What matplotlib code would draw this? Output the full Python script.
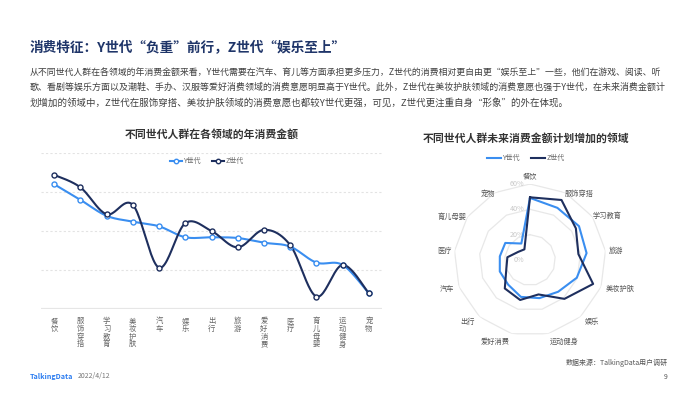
import numpy as np
import matplotlib
matplotlib.use("Agg")
import matplotlib.pyplot as plt

plt.rcParams['font.family'] = ['Noto Sans CJK SC', 'DejaVu Sans']

# ---- data ----
line_cats = ['餐饮', '服饰穿搭', '学习教育', '美妆护肤', '汽车', '娱乐', '出行',
             '旅游', '爱好消费', '医疗', '育儿母婴', '运动健身', '宠物']
line_y = [32.0, 28.0, 23.9, 22.4, 21.2, 18.4, 18.4, 18.2, 17.0, 16.0, 11.9, 11.3, 4.0]
line_z = [34.4, 31.2, 24.3, 26.7, 10.6, 22.0, 20.0, 15.8, 20.3, 16.4, 3.2, 11.3, 4.0]

radar_cats = ['餐饮', '服饰穿搭', '学习教育', '旅游', '美妆护肤', '娱乐', '运动健身',
              '爱好消费', '出行', '汽车', '医疗', '育儿母婴', '宠物']
radar_y = [49, 46.5, 47, 45, 39.5, 33.5, 31, 30, 26, 25.5, 24, 23.7, 14.7]
radar_z = [49.5, 53.5, 44, 38.5, 53.3, 41, 28, 32.5, 30, 20, 18, 11.3, 9.5]
radar_rings = [20, 40, 60]

series_names = ['Y世代', 'Z世代']
c_y = '#3a8ef0'
c_z = '#1e2f5e'

title = '消费特征：Y世代“负重”前行，Z世代“娱乐至上”'
para = ['从不同世代人群在各领域的年消费金额来看，Y世代需要在汽车、育儿等方面承担更多压力，Z世代的消费相对更自由更“娱乐至上”一些，他们在游戏、阅读、听',
        '歌、看剧等娱乐方面以及潮鞋、手办、汉服等爱好消费领域的消费意愿明显高于Y世代。此外，Z世代在美妆护肤领域的消费意愿也强于Y世代，在未来消费金额计',
        '划增加的领域中，Z世代在服饰穿搭、美妆护肤领域的消费意愿也都较Y世代更强，可见，Z世代更注重自身“形象”的外在体现。']

W, H = 700, 394


def fx(x):
    return x / W


def fy(y):
    return 1 - y / H


def smooth(xs, ys, n=24):
    # catmull-rom style curve through the points
    p = np.column_stack([xs, ys]).astype(float)
    ext = np.vstack([p[0], p, p[-1]])
    out = []
    t = np.linspace(0, 1, n)[:, None]
    for i in range(1, len(ext) - 2):
        p0, p1, p2, p3 = ext[i - 1], ext[i], ext[i + 1], ext[i + 2]
        c1 = p1 + (p2 - p0) / 6
        c2 = p2 - (p3 - p1) / 6
        seg = ((1 - t) ** 3) * p1 + 3 * ((1 - t) ** 2) * t * c1 + 3 * (1 - t) * t ** 2 * c2 + t ** 3 * p2
        out.append(seg if i == 1 else seg[1:])
    out = np.vstack(out)
    return out[:, 0], out[:, 1]


fig = plt.figure(figsize=(7, 3.94), dpi=100)

# ---- header ----
ttl = fig.text(fx(30), fy(48), title, fontsize=10.4, fontweight='bold', color='#1f3569', va='center')
para_txt = []
for i, s in enumerate(para):
    t = fig.text(fx(30), fy(72.3 + 15 * i), s, fontsize=6.8, color='#404040', va='center')
    para_txt.append(t)
fig.canvas.draw()
r = fig.canvas.get_renderer()
for t in para_txt[:2]:
    w = t.get_window_extent(r).width
    t.set_fontsize(6.8 * 638 / w)
ttl.set_fontsize(10.4 * 316 / ttl.get_window_extent(r).width)

# ---- line chart ----
ax = fig.add_axes([fx(41), fy(309), fx(382) - fx(41), fy(153) - fy(309)])
xs = np.arange(len(line_cats))
for vals, col, name in [(line_y, c_y, series_names[0]), (line_z, c_z, series_names[1])]:
    sx, sy = smooth(xs, vals)
    ax.plot(sx, sy, color=col, lw=1.5, zorder=3)
    ax.plot(xs, vals, ls='none', marker='o', ms=3.6, mfc='white', mec=col, mew=1.0, zorder=4)
    ax.plot([], [], color=col, lw=1.5, marker='o', ms=3.2, mfc='white', mec=col, label=name)
ax.set_xlim(-0.5, len(line_cats) - 0.5)
ax.set_ylim(0, 40)
for v in [10, 20, 30, 40]:
    ax.axhline(v, color='#e3e3e3', lw=0.8, ls=(0, (2, 2)), zorder=1)
ax.axhline(0, color='#e6e6e6', lw=1.6, zorder=1)
for s in ax.spines.values():
    s.set_visible(False)
ax.set_yticks([])
ax.set_xticks(xs)
ax.set_xticklabels(['\n'.join(c) for c in line_cats], fontsize=5.3, color='#666666',
                   linespacing=0.95, va='top')
ax.tick_params(axis='x', length=0, pad=6)
ax.set_facecolor('none')
fig.text(fx(212), fy(134), '不同世代人群在各领域的年消费金额', fontsize=7.8, fontweight='bold',
         color='#333333', ha='center', va='center')
fig.legend(*ax.get_legend_handles_labels(), loc='center', bbox_to_anchor=(fx(207), fy(161)),
           ncol=2, fontsize=5, frameon=False, handlelength=1.7, handletextpad=0.2,
           columnspacing=1.6, labelcolor='#666666')

# ---- radar ----
cx, cy, rad = 530, 260, 76
pax = fig.add_axes([fx(cx - rad), fy(cy + rad), fx(2 * rad), (2 * rad) / H], projection='polar')
pax.set_theta_zero_location('N')
pax.set_theta_direction(-1)
pax.set_ylim(0, 60)
pax.grid(False)
pax.set_xticks([])
pax.set_yticks([])
pax.spines['polar'].set_visible(False)
pax.set_facecolor('none')
n = len(radar_cats)
th = np.arange(n) * 2 * np.pi / n
thc = np.append(th, th[0])
for rv in radar_rings:
    pax.plot(thc, [rv] * (n + 1), color='#e8e8e8', lw=0.9, zorder=1)
for rv in [0] + radar_rings:
    pax.annotate(f'{rv}%', xy=(0, rv), xytext=(-4, 0), textcoords='offset points',
                 ha='right', va='center', fontsize=5.2, color='#c8c8c8', annotation_clip=False)
h1, = pax.plot(thc, radar_y + radar_y[:1], color=c_y, lw=1.5, zorder=3)
h2, = pax.plot(thc, radar_z + radar_z[:1], color=c_z, lw=1.5, zorder=4)
for k, lab in enumerate(radar_cats):
    s, c = np.sin(th[k]), np.cos(th[k])
    if abs(s) < 0.05:
        ha, va, R = 'center', 'bottom', 80
    else:
        ha = 'left' if s > 0 else 'right'
        va, R = 'center', 79.5 - 5 * c
    pax.text(th[k], R * 60 / rad, lab, ha=ha, va=va, fontsize=5.2, color='#555555', clip_on=False)
fig.text(fx(526), fy(138), '不同世代人群未来消费金额计划增加的领域', fontsize=7.8, fontweight='bold',
         color='#333333', ha='center', va='center')
fig.legend([h1, h2], series_names, loc='center', bbox_to_anchor=(fx(526), fy(158)),
           ncol=2, fontsize=5, frameon=False, handlelength=2.0, handletextpad=0.2,
           columnspacing=1.6, labelcolor='#666666')

# ---- footer ----
fig.text(fx(30), fy(376), 'TalkingData', fontsize=5.2, color='#2b7cf0', fontweight='bold', va='center')
fig.text(fx(78), fy(376), '2022/4/12', fontsize=5, color='#777777', va='center')
fig.text(fx(668), fy(363), '数据来源：TalkingData用户调研', fontsize=5, color='#555555',
         style='italic', ha='right', va='center')
fig.text(fx(668), fy(377), '9', fontsize=5, color='#555555', ha='right', va='center')

fig.savefig('out.png', dpi=100)
